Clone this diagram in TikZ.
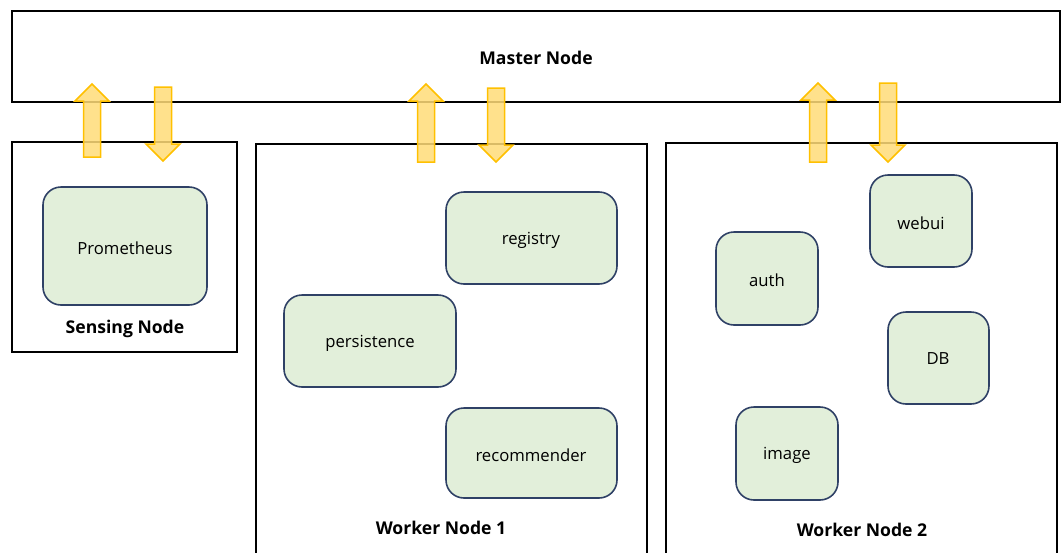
\documentclass[tikz,border=0pt]{standalone}
\usepackage{fontspec}
\setmainfont{Open Sans}
\begin{document}
\begin{tikzpicture}[x=1pt,y=-1pt,
  hostbox/.style={draw=black,line width=1.6pt,fill=none},
  svc/.style={draw=svcline,line width=1.6pt,fill=svcfill,rounded corners=18pt},
  svclabel/.style={font=\fontsize{16.7}{19}\selectfont,text=black},
  hostlabel/.style={font=\fontsize{17.6}{20}\selectfont\bfseries,text=black},
  flow/.style={draw=flowline,line width=1.5pt,fill=flowfill,fill opacity=0.85,line join=miter}
]
\definecolor{svcfill}{HTML}{E2EFDA}
\definecolor{svcline}{HTML}{2F4166}
\definecolor{flowfill}{HTML}{FFDC78}
\definecolor{flowline}{HTML}{FFC000}
\useasboundingbox (0,0) rectangle (1063,552);

% hosts
\draw[hostbox] (12,11) rectangle (1060,102);
\node[hostlabel] (master) at (536,58) {Master Node};
\draw[hostbox] (12,142) rectangle (237,352);
\node[hostlabel] (sensing) at (125,329) {Sensing Node};
\draw[hostbox] (256,144) rectangle (647,560);
\node[hostlabel] (w1) at (441,528) {Worker Node 1};
\draw[hostbox] (666,143) rectangle (1057,560);
\node[hostlabel] (w2) at (862,530) {Worker Node 2};

% services
\draw[svc] (43,187) rectangle (207,305);
\node[svclabel] (prom) at (125,248) {Prometheus};
\draw[svc] (446,192) rectangle (617,284);
\node[svclabel] (registry) at (531,240) {registry};
\draw[svc] (284,295) rectangle (456,387);
\node[svclabel] (persist) at (370,343) {persistence};
\draw[svc] (446,408) rectangle (617,498);
\node[svclabel] (recom) at (531,455) {recommender};
\draw[svc] (716,232) rectangle (818,325);
\node[svclabel] (auth) at (767,280) {auth};
\draw[svc] (870,175) rectangle (972,267);
\node[svclabel] (webui) at (921,223) {webui};
\draw[svc] (888,312) rectangle (989,404);
\node[svclabel] (db) at (938,359) {DB};
\draw[svc] (736,407) rectangle (838,500);
\node[svclabel] (image) at (787,455) {image};

% upward flows (centre x, tip y, base y)
\foreach \cx/\ty/\by in {92/84/157, 426/84/162, 818/83/162}{
  \draw[flow] (\cx,\ty) -- (\cx+17,\ty+17) -- (\cx+8.5,\ty+17) -- (\cx+8.5,\by)
    -- (\cx-8.5,\by) -- (\cx-8.5,\ty+17) -- (\cx-17,\ty+17) -- cycle;
}
% downward flows (centre x, top y, tip y)
\foreach \cx/\ty/\by in {163/87/161, 496/88/162, 888/83/162}{
  \draw[flow] (\cx-8.5,\ty) -- (\cx+8.5,\ty) -- (\cx+8.5,\by-17) -- (\cx+17,\by-17)
    -- (\cx,\by) -- (\cx-17,\by-17) -- (\cx-8.5,\by-17) -- cycle;
}
\end{tikzpicture}
\end{document}
